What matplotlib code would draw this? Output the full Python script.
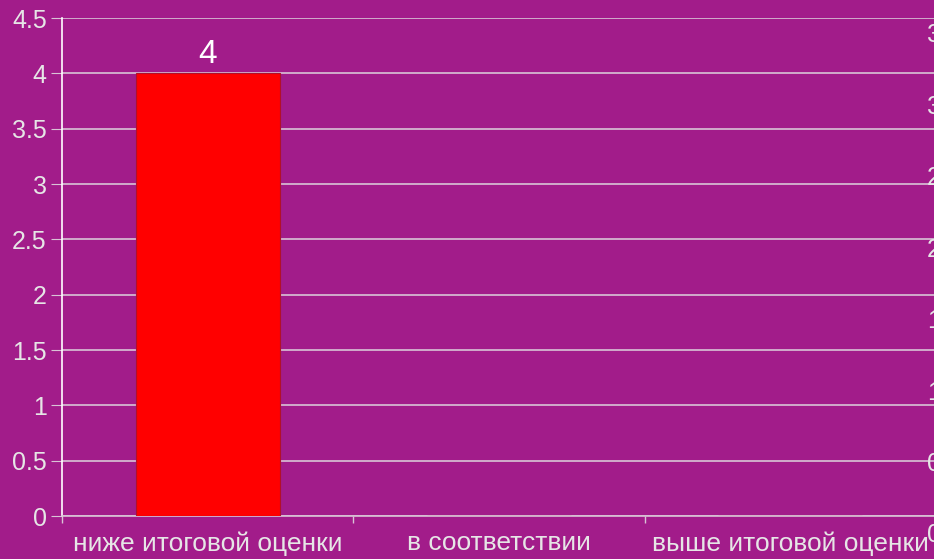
import matplotlib
matplotlib.use("Agg")
import matplotlib.pyplot as plt
import numpy as np

categories = ["ниже итоговой оценки", "в соответствии", "выше итоговой оценки"]
values = [4, 0, 0]
left_ticks = [0, 0.5, 1, 1.5, 2, 2.5, 3, 3.5, 4, 4.5]
right_ticks = [0, 0.5, 1, 1.5, 2, 2.5, 3, 3.5]

BG = "#A21C8A"
TXT = "#E6E6E6"
GRID = "#D9C3D6"

plt.rcParams['font.family'] = ['Liberation Sans', 'DejaVu Sans']

W, H = 934, 559
fig = plt.figure(figsize=(W / 100, H / 100), dpi=100, facecolor=BG)

# main axes: x 62..936 px, y 18..516 px
x0, x1 = 62, 936
y_top, y_bot = 18, 516
ax = fig.add_axes([x0 / W, (H - y_bot) / H, (x1 - x0) / W, (y_bot - y_top) / H])
ax.set_facecolor(BG)
ax.set_xlim(-0.5, 2.5)
ax.set_ylim(0, 4.5)

bars = ax.bar(range(len(categories)), values, width=0.495, color="#FF0000",
              edgecolor="#B0102A", linewidth=0.8, zorder=3)
for i, v in enumerate(values):
    if v:
        ax.text(i, v + 0.03, f"{v:g}", ha="center", va="bottom", color="white",
                fontsize=24, zorder=4)

ax.set_yticks(left_ticks)
ax.set_yticklabels([f"{t:g}" for t in left_ticks])
ax.yaxis.grid(True, color=GRID, linewidth=1.2, zorder=0)
ax.set_axisbelow(True)
ax.set_xticks([-0.5, 0.5, 1.5, 2.5])
ax.set_xticklabels([])
ax.set_xticks([0, 1, 2], minor=True)
ax.set_xticklabels(categories, minor=True)
ax.tick_params(axis="x", which="major", length=5, color=GRID, width=1)
ax.tick_params(axis="x", which="minor", length=0, labelcolor=TXT, labelsize=19, pad=11)
ax.tick_params(axis="y", length=8, color=GRID, labelcolor=TXT, labelsize=18, pad=3)
for s in ["top", "right"]:
    ax.spines[s].set_visible(False)
ax.spines["left"].set_color("white")
ax.spines["left"].set_linewidth(1.2)
ax.spines["bottom"].set_color(GRID)
ax.spines["bottom"].set_linewidth(1.2)

# secondary (cut-off) right axis labels: 0 at y=533, 3.5 at y=33
r_bot, r_top = 533, 33
ax2 = fig.add_axes([x0 / W, (H - r_bot) / H, (924 - x0) / W, (r_bot - r_top) / H])
ax2.patch.set_visible(False)
ax2.set_xlim(0, 1)
ax2.set_ylim(0, 3.5)
ax2.set_xticks([])
ax2.yaxis.tick_right()
ax2.set_yticks(right_ticks)
ax2.set_yticklabels([f"{t:g}" for t in right_ticks])
ax2.tick_params(axis="y", length=0, labelcolor=TXT, labelsize=18, pad=2)
for s in ax2.spines.values():
    s.set_visible(False)

fig.savefig("out.png", dpi=100, facecolor=BG)
